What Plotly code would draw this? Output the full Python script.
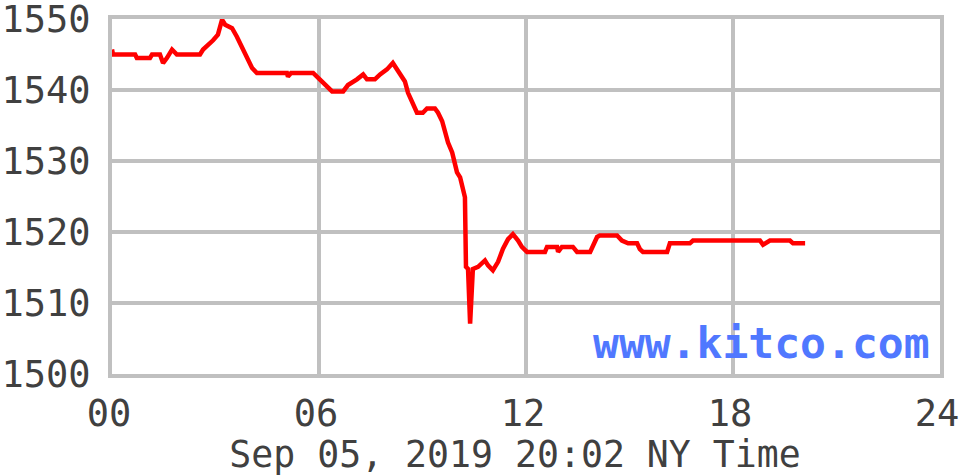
import plotly.graph_objects as go

hours = [0.00, 0.03, 0.67, 0.72, 1.10, 1.16, 1.39, 1.48, 1.59, 1.74, 1.88, 2.55, 2.64, 2.78, 2.93,
         3.07, 3.19, 3.28, 3.48, 3.62, 3.71, 3.86, 3.94, 4.06, 4.20, 5.07, 5.10, 5.19, 5.83, 5.97,
         6.12, 6.26, 6.38, 6.70, 6.84, 7.10, 7.28, 7.39, 7.62, 7.77, 7.97, 8.14, 8.35, 8.49, 8.58,
         8.72, 8.84, 9.01, 9.13, 9.36, 9.45, 9.57, 9.65, 9.74, 9.86, 9.94, 10.00, 10.09, 10.17, 10.23,
         10.26, 10.32, 10.38, 10.43, 10.46, 10.61, 10.81, 10.90, 11.04, 11.19, 11.33, 11.48, 11.62,
         11.77, 11.88, 12.03, 12.55, 12.61, 12.90, 12.93, 13.04, 13.36, 13.48, 13.86, 13.94, 14.06,
         14.14, 14.64, 14.78, 14.96, 15.22, 15.30, 15.39, 16.09, 16.17, 16.75, 16.84, 18.78, 18.87,
         19.07, 19.65, 19.74, 20.09]
prices = [1545.7, 1545.0, 1545.0, 1544.5, 1544.5, 1545.0, 1545.0, 1543.8, 1544.5, 1545.7, 1545.0,
          1545.0, 1545.7, 1546.3, 1547.0, 1547.8, 1549.9, 1549.2, 1548.7, 1547.5, 1546.6, 1545.4,
          1544.3, 1543.1, 1542.4, 1542.4, 1541.9, 1542.4, 1542.4, 1541.7, 1541.0, 1540.3, 1539.8,
          1539.8, 1540.7, 1541.5, 1542.2, 1541.5, 1541.5, 1542.2, 1542.9, 1543.8, 1542.4, 1541.2,
          1539.6, 1538.2, 1536.8, 1536.8, 1537.4, 1537.4, 1536.8, 1535.6, 1534.0, 1532.6, 1531.2,
          1529.3, 1528.4, 1527.7, 1526.0, 1524.9, 1515.1, 1514.8, 1507.1, 1511.1, 1514.8, 1515.1,
          1516.0, 1515.3, 1514.6, 1515.8, 1517.6, 1519.0, 1519.7, 1518.8, 1517.9, 1517.2, 1517.2,
          1517.9, 1517.9, 1517.2, 1517.9, 1517.9, 1517.2, 1517.2, 1518.1, 1519.3, 1519.5, 1519.5,
          1518.8, 1518.4, 1518.4, 1517.6, 1517.2, 1517.2, 1518.4, 1518.4, 1518.8, 1518.8, 1518.2,
          1518.8, 1518.8, 1518.4, 1518.4]

x_tick_vals = [0, 6, 12, 18, 24]
x_tick_text = ["00", "06", "12", "18", "24"]
y_tick_vals = [1500, 1510, 1520, 1530, 1540, 1550]
title_text = "Sep 05, 2019 20:02 NY Time"
watermark = "www.kitco.com"

FONT = "DejaVu Sans Mono"
GRID = "#c0c0c0"
TEXT = "#404040"

fig = go.Figure()
fig.add_trace(go.Scatter(x=hours, y=prices, mode="lines",
                         line=dict(color="#ff0000", width=4.5), hoverinfo="skip"))

fig.update_layout(
    width=960, height=476,
    margin=dict(l=112, r=20, t=19, b=102, autoexpand=False),
    paper_bgcolor="white", plot_bgcolor="white",
    showlegend=False,
    font=dict(family=FONT, size=37, color=TEXT),
    title=dict(text=title_text, xref="container", yref="container",
               x=515 / 960, y=0.046, xanchor="center", yanchor="middle",
               font=dict(family=FONT, size=36.5, color=TEXT)),
)
fig.update_xaxes(range=[0, 24], tickvals=x_tick_vals, ticktext=x_tick_text,
                 showgrid=True, gridcolor=GRID, gridwidth=4,
                 showline=True, linecolor=GRID, linewidth=4, mirror=True,
                 zeroline=False, ticks="", ticklabelstandoff=4, ticklabelshift=-3,
                 automargin=False, ticklabeloverflow="allow",
                 tickfont=dict(family=FONT, size=37, color=TEXT))
fig.update_yaxes(range=[1500, 1550], tickvals=y_tick_vals,
                 showgrid=True, gridcolor=GRID, gridwidth=4,
                 showline=True, linecolor=GRID, linewidth=4, mirror=True,
                 zeroline=False, ticks="", ticklabelstandoff=10,
                 automargin=False, ticklabeloverflow="allow",
                 tickfont=dict(family=FONT, size=37, color=TEXT))

fig.add_annotation(text=watermark, xref="paper", yref="paper", x=0.99, y=0.01,
                   xanchor="right", yanchor="bottom", showarrow=False,
                   font=dict(family=FONT, size=43, color="#5078ff", weight="bold"))

fig.write_html("out.html", config={"displayModeBar": False},
               post_script="document.body.style.margin='0';document.body.style.overflow='hidden';")
